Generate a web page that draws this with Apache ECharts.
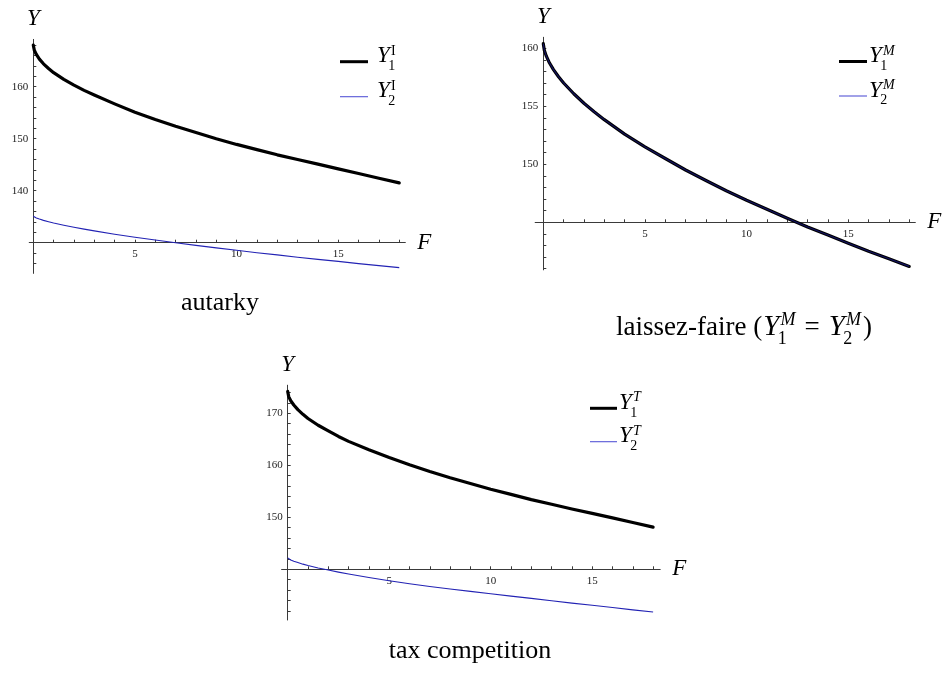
<!DOCTYPE html>
<html>
<head>
<meta charset="utf-8">
<script src="https://cdn.jsdelivr.net/npm/echarts@6/dist/echarts.min.js"></script>
<style>
  html, body { margin: 0; padding: 0; background: #ffffff; }
  #chart { width: 944px; height: 694px; }
</style>
</head>
<body>
<div id="chart"></div>
<script>
// Output Y of the two regions against the fixed cost F, under three regimes.
const fValues = [0, 0.05, 0.15, 0.3, 0.5, 0.75, 1, 1.5, 2, 2.5, 3, 4, 5, 6, 7, 8, 9, 10, 11, 12, 13, 14, 15, 16, 17, 18];

const autarkyY1 = [168.0, 167.0, 166.2, 165.3, 164.4, 163.5, 162.7, 161.4, 160.3, 159.3, 158.4, 156.7, 155.1, 153.7, 152.4, 151.2, 150.0, 148.9, 147.9, 146.9, 146.0, 145.1, 144.2, 143.3, 142.4, 141.5];
const autarkyY2 = [135.1, 134.94, 134.75, 134.54, 134.29, 134.03, 133.79, 133.36, 132.97, 132.61, 132.27, 131.64, 131.05, 130.51, 129.99, 129.48, 129.0, 128.54, 128.08, 127.65, 127.21, 126.8, 126.4, 125.98, 125.59, 125.2];

const laissezY1 = [160.4, 159.84, 159.32, 158.75, 158.16, 157.55, 157.01, 156.08, 155.26, 154.53, 153.85, 152.6, 151.5, 150.5, 149.51, 148.6, 147.72, 146.9, 146.13, 145.35, 144.6, 143.9, 143.2, 142.5, 141.85, 141.2];
const laissezY2 = [160.4, 159.84, 159.32, 158.75, 158.16, 157.55, 157.01, 156.08, 155.26, 154.53, 153.85, 152.6, 151.5, 150.5, 149.51, 148.6, 147.72, 146.9, 146.13, 145.35, 144.6, 143.9, 143.2, 142.5, 141.85, 141.2];

const taxY1 = [174.2, 173.2, 172.4, 171.6, 170.7, 169.8, 169.0, 167.7, 166.6, 165.55, 164.6, 163.0, 161.5, 160.1, 158.8, 157.6, 156.5, 155.4, 154.4, 153.4, 152.5, 151.6, 150.75, 149.9, 149.0, 148.1];
const taxY2 = [142.2, 142.0, 141.8, 141.55, 141.3, 140.99, 140.73, 140.26, 139.85, 139.46, 139.1, 138.42, 137.8, 137.23, 136.7, 136.2, 135.75, 135.3, 134.85, 134.4, 133.95, 133.5, 133.1, 132.65, 132.2, 131.8];

// Tick marks and tick labels
const fTickLabels = [5, 10, 15];
const fTicks = [1, 2, 3, 4, 5, 6, 7, 8, 9, 10, 11, 12, 13, 14, 15, 16, 17, 18];
const autarkyYLabels = [140, 150, 160];
const autarkyYTicks = [124, 126, 128, 130, 132, 134, 136, 138, 140, 142, 144, 146, 148, 150, 152, 154, 156, 158, 160, 162, 164, 166, 168];
const laissezYLabels = [150, 155, 160];
const laissezYTicks = [141, 142, 143, 144, 145, 146, 147, 148, 149, 150, 151, 152, 153, 154, 155, 156, 157, 158, 159, 160];
const taxYLabels = [150, 160, 170];
const taxYTicks = [132, 134, 136, 138, 140, 142, 144, 146, 148, 150, 152, 154, 156, 158, 160, 162, 164, 166, 168, 170, 172, 174];

const captions = ['autarky', 'laissez-faire', 'tax competition'];
const superscripts = ['I', 'M', 'T'];

const serif = '"Liberation Serif", "Times New Roman", serif';
const axisColor = '#3a3a3a';
const blue = '#2323b4';

// Panel geometry: origin of the axes in pixels, pixels per unit, axis extents
const panels = [
  { y1: autarkyY1, y2: autarkyY2, yLabels: autarkyYLabels, yTicks: autarkyYTicks, cross: 130, sup: 0,
    ox: 33.3, sx: 20.33, xMin: -0.2, xMax: 18.3,
    yRef: 160, yRefPx: 86.7, sy: 5.2, yMin: 124.1, yMax: 169.1, blueOpacity: 1,
    legend: { x1: 340, x2: 368, rows: [61.7, 96.7], textX: 377 } },
  { y1: laissezY1, y2: laissezY2, yLabels: laissezYLabels, yTicks: laissezYTicks, cross: 145, sup: 1,
    ox: 543.3, sx: 20.33, xMin: -0.4, xMax: 18.3,
    yRef: 160, yRefPx: 48.3, sy: 11.6, yMin: 140.9, yMax: 160.95, blueOpacity: 0.55,
    legend: { x1: 839, x2: 867, rows: [61.5, 96], textX: 869 } },
  { y1: taxY1, y2: taxY2, yLabels: taxYLabels, yTicks: taxYTicks, cross: 140, sup: 2,
    ox: 287.7, sx: 20.3, xMin: -0.3, xMax: 18.35,
    yRef: 170, yRefPx: 413.3, sy: 5.2, yMin: 130.25, yMax: 175.4, blueOpacity: 1,
    legend: { x1: 590, x2: 617, rows: [408.3, 441.7], textX: 619 } }
];

const grids = [], xAxes = [], yAxes = [], series = [], graphics = [];

const measureCtx = document.createElement('canvas').getContext('2d');
function textWidth(str, size, italic) {
  measureCtx.font = (italic ? 'italic ' : '') + size + 'px ' + serif;
  return measureCtx.measureText(str).width;
}
// Text piece placed by its baseline
function piece(str, x, baseline, size, italic) {
  return {
    type: 'text', x: x, y: baseline - 0.34 * size, silent: true,
    style: { text: str, fontSize: size, fontFamily: serif, fontStyle: italic ? 'italic' : 'normal',
             fill: '#000', align: 'left', verticalAlign: 'middle' }
  };
}
// Y with a stacked superscript and subscript; returns the x after it
function stackedY(out, x, baseline, size, sup, sub) {
  const small = Math.round(size * 0.62);
  const wY = textWidth('Y', size, true);
  const supItalic = sup !== 'I';
  out.push(piece('Y', x, baseline, size, true));
  out.push(piece(sup, x + wY + 1.2, baseline - size * 0.36, small, supItalic));
  out.push(piece(sub, x + wY - 1.5, baseline + size * 0.3, small, false));
  const w = Math.max(wY + 1.2 + textWidth(sup, small, supItalic), wY - 1.5 + textWidth(sub, small, false));
  return x + w;
}

panels.forEach((p, i) => {
  const left = p.ox + p.xMin * p.sx;
  const width = (p.xMax - p.xMin) * p.sx;
  const top = p.yRefPx - (p.yMax - p.yRef) * p.sy;
  const height = (p.yMax - p.yMin) * p.sy;
  const crossPx = p.yRefPx + (p.yRef - p.cross) * p.sy;

  grids.push({ left: left, top: top, width: width, height: height, containLabel: false, outerBoundsMode: 'none' });

  xAxes.push({
    gridIndex: i, type: 'value', min: p.xMin, max: p.xMax, position: 'bottom',
    offset: -(top + height - crossPx),
    axisLine: { show: true, lineStyle: { color: axisColor, width: 1 } },
    axisTick: { show: true, inside: true, length: 3, customValues: fTicks, lineStyle: { color: axisColor } },
    axisLabel: { show: true, customValues: fTickLabels, margin: 6, fontFamily: serif, fontSize: 11, color: '#222' },
    splitLine: { show: false },
    name: 'F', nameLocation: 'end', nameGap: 12,
    nameTextStyle: { fontFamily: serif, fontStyle: 'italic', fontSize: 23, color: '#000', verticalAlign: 'middle', padding: [6, 0, 0, 0] }
  });

  yAxes.push({
    gridIndex: i, type: 'value', min: p.yMin, max: p.yMax, position: 'left',
    offset: p.xMin * p.sx,
    axisLine: { show: true, lineStyle: { color: axisColor, width: 1 } },
    axisTick: { show: true, inside: true, length: 3, customValues: p.yTicks, lineStyle: { color: axisColor } },
    axisLabel: { show: true, customValues: p.yLabels, margin: 5, fontFamily: serif, fontSize: 11, color: '#222' },
    splitLine: { show: false },
    name: 'Y', nameLocation: 'end', nameGap: 9,
    nameTextStyle: { fontFamily: serif, fontStyle: 'italic', fontSize: 23, color: '#000', align: 'center' }
  });

  series.push({
    type: 'line', xAxisIndex: i, yAxisIndex: i, showSymbol: false, smooth: false,
    data: fValues.map((f, k) => [f, p.y1[k]]),
    lineStyle: { color: '#000', width: 3.2, join: 'round', cap: 'round' }, z: 3
  });
  series.push({
    type: 'line', xAxisIndex: i, yAxisIndex: i, showSymbol: false, smooth: false,
    data: fValues.map((f, k) => [f, p.y2[k]]),
    lineStyle: { color: blue, width: 1.1, opacity: p.blueOpacity, join: 'round' }, z: 4
  });

  // Legend: line samples with Y_1, Y_2 labels
  const L = p.legend;
  const sup = superscripts[p.sup];
  graphics.push({ type: 'line', shape: { x1: L.x1, y1: L.rows[0], x2: L.x2, y2: L.rows[0] }, style: { stroke: '#000', lineWidth: 3 }, silent: true });
  graphics.push({ type: 'line', shape: { x1: L.x1, y1: L.rows[1], x2: L.x2, y2: L.rows[1] }, style: { stroke: '#5555d6', lineWidth: 1.1 }, silent: true });
  stackedY(graphics, L.textX, L.rows[0] + 2.5, 23, sup, '1');
  stackedY(graphics, L.textX, L.rows[1] + 2.5, 23, sup, '2');
});

// Captions under the panels
const capSize = 26;
(function () {
  const w = textWidth(captions[0], capSize, false);
  graphics.push(piece(captions[0], 220 - w / 2, 312, capSize, false));
})();
(function () {
  // laissez-faire (Y_1^M = Y_2^M)
  const base = 337;
  const size = 27;
  const mathSize = 29;
  const parts = [];
  let x = 0;
  const head = captions[1] + ' (';
  parts.push(piece(head, x, base, size, false));
  x += textWidth(head, size, false) + 1;
  x = stackedY(parts, x, base, mathSize, 'M', '1');
  x += 9;
  parts.push(piece('=', x, base, size, false));
  x += textWidth('=', size, false) + 9;
  x = stackedY(parts, x, base, mathSize, 'M', '2');
  parts.push(piece(')', x + 2, base, size, false));
  x += 2 + textWidth(')', size, false);
  const shift = 744 - x / 2;
  parts.forEach(el => { el.x += shift; graphics.push(el); });
})();
(function () {
  const w = textWidth(captions[2], capSize, false);
  graphics.push(piece(captions[2], 470 - w / 2, 660, capSize, false));
})();

const chart = echarts.init(document.getElementById('chart'), null, { renderer: 'canvas' });
chart.setOption({
  backgroundColor: '#ffffff',
  animation: false,
  grid: grids,
  xAxis: xAxes,
  yAxis: yAxes,
  series: series,
  graphic: { elements: graphics }
});
</script>
</body>
</html>
